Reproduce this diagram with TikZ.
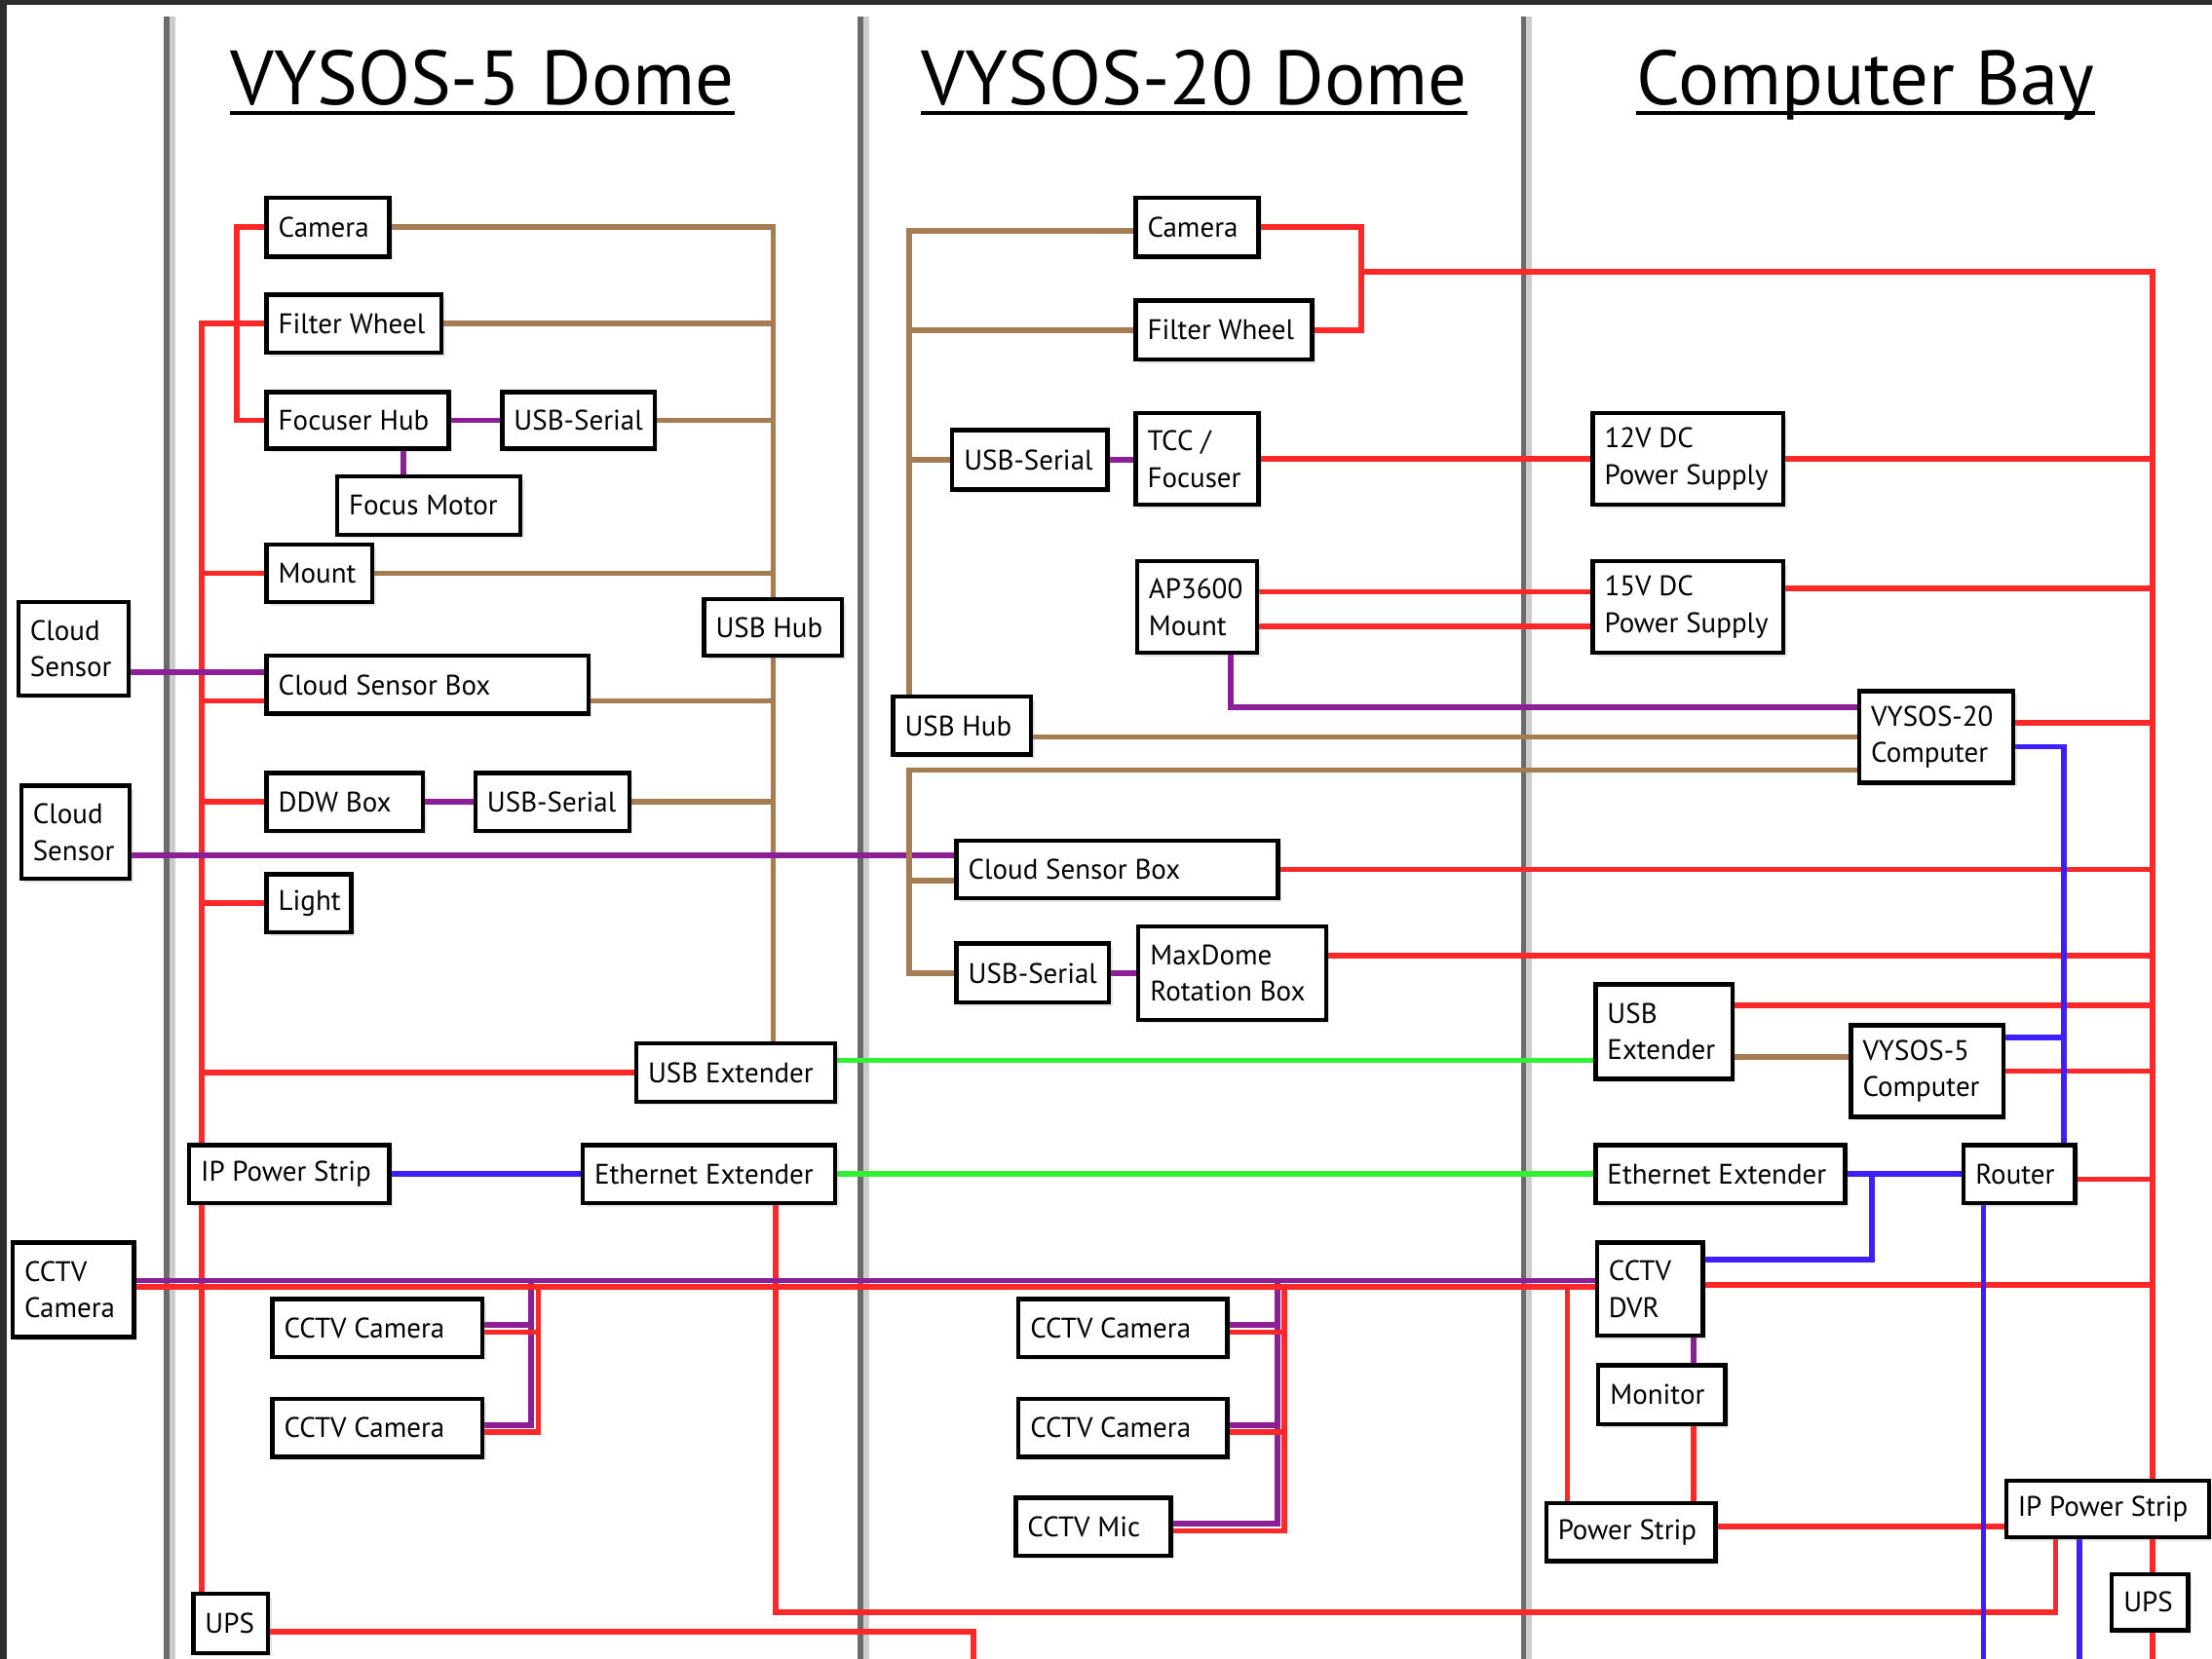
\documentclass[tikz,border=0pt]{standalone}
\usepackage{fontspec}
\setmainfont{PT Sans}
\usetikzlibrary{calc,shadows}
\pgfdeclarelayer{back}
\pgfdeclarelayer{wires}
\pgfsetlayers{back,wires,main}
\definecolor{cred}{RGB}{255,40,40}
\definecolor{cbrown}{RGB}{166,124,82}
\definecolor{cpurple}{RGB}{140,30,150}
\definecolor{cblue}{RGB}{60,30,255}
\definecolor{cgreen}{RGB}{50,240,50}
\tikzset{
  bxs/.style={draw=black, line width=1.7pt, fill=white, rectangle, inner sep=0pt, outer sep=0pt,
    drop shadow={shadow xshift=0.5mm, shadow yshift=-0.5mm, opacity=0.2}},
  lbl/.style={inner sep=0pt, align=left, font=\fontsize{11.4}{14.7}\selectfont},
  ttl/.style={inner sep=0pt, font=\fontsize{31}{37}\selectfont},
  wire/.style={line width=2.2pt},
  pw/.style={wire, draw=cred},
  br/.style={wire, draw=cbrown},
  pu/.style={wire, draw=cpurple},
  bl/.style={wire, draw=cblue},
  gn/.style={wire, draw=cgreen},
  sepl/.style={draw=black!58, line width=2.2pt},
}
\newcommand{\mkbox}[6]{%
  \pgfmathsetmacro{\mkbw}{(#4-#2)*0.2}%
  \pgfmathsetmacro{\mkbh}{(#5-#3)*0.2}%
  \node[bxs, minimum width=\mkbw mm, minimum height=\mkbh mm, anchor=north west] (#1) at (#2,#3) {};
  \node[lbl, anchor=west] (#1t) at ([xshift=1.6mm]#1.west) {#6};}
\begin{document}
\begin{tikzpicture}[x=0.2mm, y=-0.2mm]
\useasboundingbox (0,0) rectangle (1568,1176);
\begin{pgfonlayer}{back}
  \fill[black!82] (0,0) rectangle (1568,1176);
  \fill[white] (5,3.5) rectangle (1568,1176);
  \foreach \sx in {118,610,1080}{
    \draw[black!20, line width=3pt] (\sx+3.5,12) -- (\sx+3.5,1176);
    \draw[sepl] (\sx,12) -- (\sx,1176);
  }
\end{pgfonlayer}

% titles
\node[ttl, anchor=base west] (t5) at (163,74) {VYSOS-5 Dome};
\node[ttl, anchor=base west] (t20) at (653,74) {VYSOS-20 Dome};
\node[ttl, anchor=base west] (tcb) at (1160,74) {Computer Bay};
\foreach \t in {t5,t20,tcb}{
  \draw[line width=1.5pt] ($(\t.base west)+(0,6)$) -- ($(\t.base east)+(0,6)$);
}

% VYSOS-5 dome
\mkbox{cam5}{189}{140}{276}{182}{Camera}
\mkbox{fw5}{189}{209}{313}{250}{Filter Wheel}
\mkbox{fh5}{189}{278}{318}{318}{Focuser Hub}
\mkbox{us5a}{356}{278}{464}{318}{USB-Serial}
\mkbox{fm5}{239}{338}{369}{379}{Focus Motor}
\mkbox{mt5}{189}{386}{264}{427}{Mount}
\mkbox{hub5}{499}{425}{597}{465}{USB Hub}
\mkbox{csb5}{189}{465}{417}{506}{Cloud Sensor Box}
\mkbox{ddw}{189}{548}{300}{589}{DDW Box}
\mkbox{us5b}{337}{548}{446}{589}{USB-Serial}
\mkbox{light}{189}{620}{249}{661}{Light}
\mkbox{ue5}{451}{740}{592}{781}{USB Extender}
\mkbox{ips5}{134}{812}{276}{853}{IP Power Strip}
\mkbox{ee5}{413}{812}{592}{853}{Ethernet Extender}
\mkbox{cc5a}{193}{921}{342}{962}{CCTV Camera}
\mkbox{cc5b}{193}{992}{342}{1033}{CCTV Camera}
\mkbox{ups5}{137}{1130}{190}{1172}{UPS}
% outside
\mkbox{cs1}{13}{427}{91}{493}{Cloud\\Sensor}
\mkbox{cs2}{15}{557}{92}{623}{Cloud\\Sensor}
\mkbox{ccl}{9}{881}{95}{948}{CCTV\\Camera}
% VYSOS-20 dome
\mkbox{cam20}{805}{140}{892}{182}{Camera}
\mkbox{fw20}{805}{213}{930}{255}{Filter Wheel}
\mkbox{us20a}{675}{305}{785}{347}{USB-Serial}
\mkbox{tcc}{805}{293}{892}{358}{TCC /\\Focuser}
\mkbox{ap}{806}{398}{891}{463}{AP3600\\Mount}
\mkbox{hub20}{633}{494}{731}{535}{USB Hub}
\mkbox{csb20}{678}{596}{906}{637}{Cloud Sensor Box}
\mkbox{us20b}{678}{669}{786}{711}{USB-Serial}
\mkbox{maxd}{807}{657}{940}{723}{MaxDome\\Rotation Box}
\mkbox{cc20a}{722}{921}{870}{962}{CCTV Camera}
\mkbox{cc20b}{722}{992}{870}{1033}{CCTV Camera}
\mkbox{mic}{720}{1062}{830}{1103}{CCTV Mic}
% Computer bay
\mkbox{ps12}{1129}{293}{1264}{358}{12V DC\\Power Supply}
\mkbox{ps15}{1129}{398}{1264}{463}{15V DC\\Power Supply}
\mkbox{v20c}{1318}{490}{1427}{555}{VYSOS-20\\Computer}
\mkbox{ue20}{1131}{698}{1228}{765}{USB\\Extender}
\mkbox{v5c}{1312}{727}{1420}{792}{VYSOS-5\\Computer}
\mkbox{ee20}{1131}{812}{1308}{853}{Ethernet Extender}
\mkbox{router}{1392}{812}{1471}{853}{Router}
\mkbox{dvr}{1132}{881}{1207}{947}{CCTV\\DVR}
\mkbox{mon}{1133}{968}{1223}{1010}{Monitor}
\mkbox{pstrip}{1096}{1066}{1216}{1107}{Power Strip}
\mkbox{ips20}{1422}{1050}{1566}{1090}{IP Power Strip}
\mkbox{ups20}{1497}{1116}{1551}{1156}{UPS}

\coordinate (rA) at (143,0);
\coordinate (rB) at (168,0);
\coordinate (rC) at (550,0);
\coordinate (rD) at (1457,1143);
\coordinate (pF) at (286,0);
\coordinate (bv) at (644.5,0);
\coordinate (jr) at (965,192.7);
\coordinate (bus) at (1526,192.7);
\coordinate (bot) at (0,1176);
\coordinate (upsA) at (690,1157);
\coordinate (pbus) at (0,908);
\coordinate (rbus) at (0,912.5);
\coordinate (pv5) at (376.5,908);
\coordinate (rv5) at (381.5,912.5);
\coordinate (pv20) at (905.6,908);
\coordinate (rv20) at (910.4,912.5);
\coordinate (rps) at (1111,0);
\coordinate (mx) at (1200.5,0);
\coordinate (bj) at (1327,0);
\coordinate (bv2) at (1463,0);
\coordinate (bv3) at (1406,0);
\coordinate (bv4) at (1474,0);

\begin{pgfonlayer}{wires}
% V5 brown (USB)
\draw[br] (cam5.east) -| (hub5.north);
\draw[br] (fw5.east) -- (fw5.east -| hub5.north);
\draw[br] (us5a.east) -- (us5a.east -| hub5.north);
\draw[br] (mt5.east) -- (mt5.east -| hub5.north);
\draw[br] ($(csb5.east)+(0,11.5)$) coordinate (c1) -- (c1 -| hub5.south);
\draw[br] (us5b.east) -- (us5b.east -| hub5.south);
\draw[br] (hub5.south) -- (hub5.south |- ue5.north);
% V5 red (power)
\draw[pw] (cam5.west) -| (fh5.west -| rB) -- (fh5.west);
\draw[pw] (fw5.west) -- (fw5.west -| rA) -- (rA |- ips5.north);
\draw[pw] (mt5.west) -- (mt5.west -| rA);
\draw[pw] ($(csb5.west)+(0,11.5)$) coordinate (c2) -- (c2 -| rA);
\draw[pw] (ddw.west) -- (ddw.west -| rA);
\draw[pw] (light.west) -- (light.west -| rA);
\draw[pw] (ue5.west) -- (ue5.west -| rA);
\draw[pw] (ips5.south -| rA) -- (ups5.north -| rA);
\draw[pw] (ups5.east |- upsA) -- (upsA) -- (upsA |- bot);
\draw[pw] (ee5.south -| rC) |- (rD) -- (rD |- ips20.south);
% V5 purple
\draw[pu] (fh5.east) -- (us5a.west);
\draw[pu] (fh5.south -| pF) -- (fm5.north -| pF);
\draw[pu] ($(csb5.west)+(0,-9)$) coordinate (c3) -- (c3 -| cs1.east);
\draw[pu] (ddw.east) -- (us5b.west);
\draw[pu] ($(csb20.west)+(0,-10)$) coordinate (c4) -- (c4 -| cs2.east);
% CCTV bus
\draw[pu] (ccl.east |- pbus) -- (dvr.west |- pbus);
\draw[pu] (pv5) |- ($(cc5b.east)+(0,-2)$);
\draw[pu] ($(cc5a.east)+(0,-2)$) coordinate (c5) -- (c5 -| pv5);
\draw[pu] (pv20) |- ($(mic.east)+(0,-2)$);
\draw[pu] ($(cc20a.east)+(0,-2)$) coordinate (c6) -- (c6 -| pv20);
\draw[pu] ($(cc20b.east)+(0,-2)$) coordinate (c7) -- (c7 -| pv20);
\draw[pw] (ccl.east |- rbus) -- (dvr.west |- rbus);
\draw[pw] (rv5) |- ($(cc5b.east)+(0,3)$);
\draw[pw] ($(cc5a.east)+(0,3)$) coordinate (c8) -- (c8 -| rv5);
\draw[pw] (rv20) |- ($(mic.east)+(0,3)$);
\draw[pw] ($(cc20a.east)+(0,3)$) coordinate (c9) -- (c9 -| rv20);
\draw[pw] ($(cc20b.east)+(0,3)$) coordinate (c10) -- (c10 -| rv20);
\draw[pw] (rps |- rbus) -- (rps |- pstrip.north);
\draw[pw] (mon.south -| mx) -- (pstrip.north -| mx);
\draw[pu] (dvr.south -| mx) -- (mon.north -| mx);
% V20 brown
\draw[br] ($(cam20.west)+(0,2.5)$) coordinate (c11) -| (hub20.north -| bv);
\draw[br] (fw20.west) -- (fw20.west -| bv);
\draw[br] (us20a.west) -- (us20a.west -| bv);
\draw[br] (v20c.west) -- (v20c.west -| hub20.east);
\draw[br] ($(v20c.west)+(0,23.5)$) coordinate (c12) -| (us20b.west -| bv) -- (us20b.west);
\draw[br] ($(csb20.west)+(0,8)$) coordinate (c13) -- (c13 -| bv);
\draw[br] ($(ue20.east)+(0,18)$) coordinate (c14) -- (c14 -| v5c.west);
% V20 purple
\draw[pu] (us20a.east) -- (us20a.east -| tcc.west);
\draw[pu] (us20b.east) -- (us20b.east -| maxd.west);
\draw[pu] ($(ap.south)+(24,0)$) |- ($(v20c.west)+(0,-21)$);
% red to computer bay
\draw[pw] (cam20.east) -| (jr) |- (fw20.east);
\draw[pw] (jr) -- (bus) -- (bus |- ips20.north);
\draw[pw] (tcc.east) -- (tcc.east -| ps12.west);
\draw[pw] ($(ap.east)+(0,-11)$) coordinate (c15) -- (c15 -| ps15.west);
\draw[pw] ($(ap.east)+(0,13.5)$) coordinate (c16) -- (c16 -| ps15.west);
\draw[pw] (ps12.east) -- (ps12.east -| bus);
\draw[pw] ($(ps15.east)+(0,-13.5)$) coordinate (c17) -- (c17 -| bus);
\draw[pw] ($(v20c.east)+(0,-10)$) coordinate (c18) -- (c18 -| bus);
\draw[pw] (csb20.east) -- (csb20.east -| bus);
\draw[pw] ($(maxd.east)+(0,-12.4)$) coordinate (c19) -- (c19 -| bus);
\draw[pw] ($(ue20.east)+(0,-18.5)$) coordinate (c20) -- (c20 -| bus);
\draw[pw] (v5c.east) -- (v5c.east -| bus);
\draw[pw] ($(router.east)+(0,3.5)$) coordinate (c21) -- (c21 -| bus);
\draw[pw] ($(dvr.east)+(0,-3)$) coordinate (c22) -- (c22 -| bus);
\draw[pw] ($(pstrip.east)+(0,-4)$) coordinate (c23) -- (c23 -| ips20.west);
\draw[pw] (ips20.south -| bus) -- (ups20.north -| bus);
\draw[pw] (ups20.south -| bus) -- (bus |- bot);
% blue (ethernet)
\draw[bl] (ips5.east) -- (ee5.west);
\draw[bl] (ee20.east) -- (router.west);
\draw[bl] (ee20.east -| bj) |- ($(dvr.east)+(0,-21)$);
\draw[bl] (router.north -| bv2) |- ($(v20c.east)+(0,7)$);
\draw[bl] ($(v5c.east)+(0,-24)$) coordinate (c24) -- (c24 -| bv2);
\draw[bl] (router.south -| bv3) -- (bv3 |- bot);
\draw[bl] (ips20.south -| bv4) -- (bv4 |- bot);
% green (extenders)
\draw[gn] ($(ue5.east)+(0,-8.5)$) coordinate (c25) -- (c25 -| ue20.west);
\draw[gn] (ee5.east) -- (ee20.west);
\end{pgfonlayer}
\end{tikzpicture}
\end{document}
